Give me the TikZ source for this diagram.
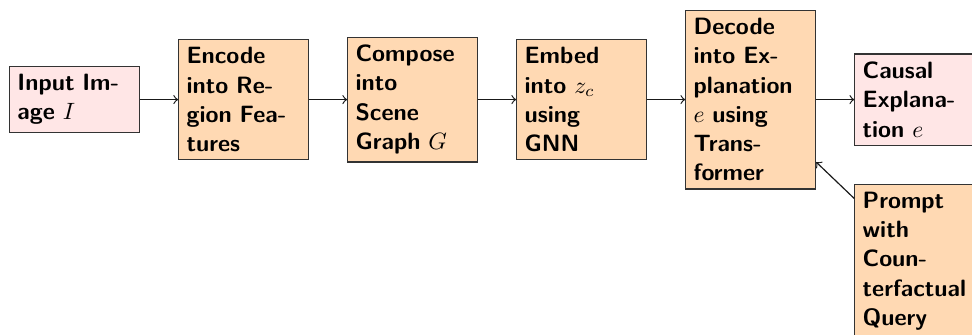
\documentclass[tikz,border=0pt]{standalone}
\usetikzlibrary{positioning}
\definecolor{pinkfill}{RGB}{255,230,230}
\definecolor{peachfill}{RGB}{255,217,179}
\tikzset{
  box/.style={draw=black!80, text width=1.7cm, align=left, inner sep=3.33pt,
    font=\sffamily\bfseries\fontsize{10}{12.4}\selectfont, line width=0.5pt},
  iobox/.style={box, fill=pinkfill},
  procbox/.style={box, fill=peachfill},
  arr/.style={->, line width=0.5pt, black!90}
}
\begin{document}
\begin{tikzpicture}
\clip (0,0) rectangle (411.9pt,-141.95pt);
\useasboundingbox (0,0) rectangle (411.9pt,-141.95pt);
\node[iobox] (input) at (31.6pt,-42.2pt) {Input Im-\\age $I$};
\node[procbox, right=16.1pt of input] (encode) {Encode\\into Re-\\gion Fea-\\tures};
\node[procbox, right=16.1pt of encode] (compose) {Compose\\into\\Scene\\Graph $G$};
\node[procbox, right=16.1pt of compose] (embed) {Embed\\into $z_c$\\using\\GNN};
\node[procbox, right=16.1pt of embed] (decode) {Decode\\into Ex-\\planation\\$e$ using\\Trans-\\former};
\node[iobox, right=16.1pt of decode] (causal) {Causal\\Explana-\\tion $e$};
\node[procbox, below=16pt of causal.south west, anchor=north west] (prompt) {Prompt\\with\\Coun-\\terfactual\\Query};
\draw[arr] (input) -- (encode);
\draw[arr] (encode) -- (compose);
\draw[arr] (compose) -- (embed);
\draw[arr] (embed) -- (decode);
\draw[arr] (decode) -- (causal);
\draw[arr] (prompt) -- (decode);
\end{tikzpicture}
\end{document}
